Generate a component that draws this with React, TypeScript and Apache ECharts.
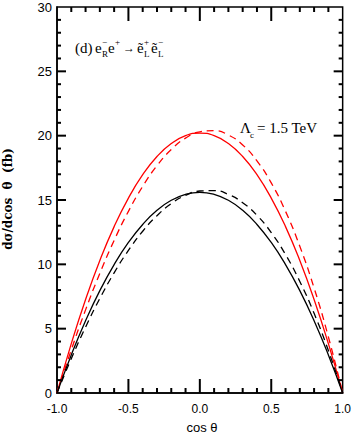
import React, { useEffect, useRef } from "react";
import * as echarts from "echarts";

const cosTheta = [-1, -0.9, -0.8, -0.7, -0.6, -0.5, -0.4, -0.3, -0.2, -0.1, 0, 0.1, 0.2, 0.3, 0.4, 0.5, 0.6, 0.7, 0.8, 0.9, 1];
const redSolid = [0, 3.84, 7.27, 10.3, 12.93, 15.15, 16.97, 18.38, 19.39, 20.0, 20.2, 20.0, 19.39, 18.38, 16.97, 15.15, 12.93, 10.3, 7.27, 3.84, 0];
const redDashed = [0, 3.35, 6.46, 9.3, 11.86, 14.12, 16.06, 17.67, 18.92, 19.81, 20.3, 20.39, 20.05, 19.28, 18.04, 16.33, 14.12, 11.4, 8.16, 4.36, 0];
const blackSolid = [0, 2.96, 5.62, 7.96, 9.98, 11.7, 13.1, 14.2, 14.98, 15.44, 15.6, 15.44, 14.98, 14.2, 13.1, 11.7, 9.98, 7.96, 5.62, 2.96, 0];
const blackDashed = [0, 2.67, 5.12, 7.35, 9.34, 11.08, 12.57, 13.78, 14.72, 15.36, 15.7, 15.73, 15.43, 14.79, 13.81, 12.47, 10.76, 8.67, 6.19, 3.3, 0];

const xTicks = ["-1.0", "-0.5", "0.0", "0.5", "1.0"];
const yTicks = ["0", "5", "10", "15", "20", "25", "30"];
const xMajorTickValues = [-0.5, 0, 0.5];
const xMinorTickValues = [-0.9, -0.8, -0.7, -0.6, -0.4, -0.3, -0.2, -0.1, 0.1, 0.2, 0.3, 0.4, 0.6, 0.7, 0.8, 0.9];
const yMajorTickValues = [5, 10, 15, 20, 25];
const yMinorTickValues = [1, 2, 3, 4, 6, 7, 8, 9, 11, 12, 13, 14, 16, 17, 18, 19, 21, 22, 23, 24, 26, 27, 28, 29];

const pairs = (ys: number[]) => cosTheta.map((c, i) => [c, ys[i]]);

export default function App() {
  const ref = useRef<HTMLDivElement>(null);
  useEffect(() => {
    document.body.style.margin = "0";
    const chart = echarts.init(ref.current!, null, { renderer: "svg" });
    const tickFont = "'Liberation Sans Narrow', 'Liberation Sans', sans-serif";
    const serif = "'Liberation Serif', serif";
    const xTickSeries = (values: number[], len: number) => ({
      type: "custom",
      z: 5,
      data: values.flatMap((v) => [[v, 0], [v, 30]]),
      renderItem: (_p: any, api: any) => {
        const yv = api.value(1);
        const p = api.coord([api.value(0), yv]);
        const dir = yv === 0 ? -1 : 1;
        return { type: "line", shape: { x1: p[0], y1: p[1], x2: p[0], y2: p[1] + dir * len }, style: { stroke: "#000", lineWidth: 2 } };
      },
    });
    const yTickSeries = (values: number[], len: number) => ({
      type: "custom",
      z: 5,
      data: values.flatMap((v) => [[-1, v], [1, v]]),
      renderItem: (_p: any, api: any) => {
        const xv = api.value(0);
        const p = api.coord([xv, api.value(1)]);
        const dir = xv === -1 ? 1 : -1;
        return { type: "line", shape: { x1: p[0], y1: p[1], x2: p[0] + dir * len, y2: p[1] }, style: { stroke: "#000", lineWidth: 2 } };
      },
    });
    const txt = (text: string, x: number, y: number, size = 9) => ({
      type: "text",
      x,
      y,
      style: { text, font: `${size}px ${serif}`, fill: "#000", textAlign: "left", textVerticalAlign: "middle" },
    });
    chart.setOption({
      animation: false,
      grid: { left: 57, right: 7, top: 7, bottom: 43, show: true, borderColor: "#000", borderWidth: 1.5, backgroundColor: "transparent" },
      xAxis: [
        {
          type: "value",
          min: -1,
          max: 1,
          interval: 0.5,
          axisLine: { show: true, onZero: false, lineStyle: { color: "#000", width: 1.5 } },
          axisTick: { show: false },
          splitLine: { show: true, lineStyle: { opacity: 0 } },
          axisLabel: {
            margin: 10,
            color: "#000",
            fontFamily: tickFont,
            fontSize: 12,
            formatter: (v: number) => xTicks[Math.round((v + 1) / 0.5)] ?? "",
          },
        },
      ],
      yAxis: [
        {
          type: "value",
          min: 0,
          max: 30,
          interval: 5,
          axisLine: { show: true, onZero: false, lineStyle: { color: "#000", width: 1.5 } },
          axisTick: { show: false },
          splitLine: { show: true, lineStyle: { opacity: 0 } },
          axisLabel: {
            margin: 5,
            color: "#000",
            fontFamily: tickFont,
            fontSize: 13,
            formatter: (v: number) => yTicks[Math.round(v / 5)] ?? "",
          },
        },
      ],
      series: [
        { type: "line", data: pairs(redSolid), smooth: true, symbol: "none", lineStyle: { color: "#ff0000", width: 1.3 } },
        { type: "line", data: pairs(redDashed), smooth: true, symbol: "none", lineStyle: { color: "#ff0000", width: 1.3, type: [7, 5] } },
        { type: "line", data: pairs(blackSolid), smooth: true, symbol: "none", lineStyle: { color: "#000", width: 1.3 } },
        { type: "line", data: pairs(blackDashed), smooth: true, symbol: "none", lineStyle: { color: "#000", width: 1.3, type: [7, 5] } },
        xTickSeries(xMajorTickValues, 14),
        xTickSeries(xMinorTickValues, 5),
        yTickSeries(yMajorTickValues, 9),
        yTickSeries(yMinorTickValues, 4),
      ],
      graphic: [
        {
          type: "text",
          x: 8,
          y: 199,
          rotation: Math.PI / 2,
          style: {
            text: "dσ/dcos  θ  (fb)",
            font: "bold 12px 'DejaVu Serif', serif",
            fill: "#000",
            textAlign: "center",
            textVerticalAlign: "middle",
          },
        },
        {
          type: "text",
          x: 202,
          y: 427,
          style: { text: "cos θ", font: `13px ${tickFont}`, fill: "#000", textAlign: "center", textVerticalAlign: "middle" },
        },
        txt("(d)", 75, 48, 15),
        txt("e", 95, 48, 15),
        txt("R", 102, 54),
        txt("−", 102, 42),
        txt("e", 108, 48, 15),
        txt("+", 115, 42),
        txt("→", 123, 48, 12),
        txt("ẽ", 137, 48, 15),
        txt("L", 144, 54),
        txt("+", 144, 42),
        txt("ẽ", 151, 48, 15),
        txt("L", 158, 54),
        txt("−", 158, 42),
        txt("Λ", 240, 128, 15),
        txt("c", 250, 135, 9),
        txt("= 1.5 TeV", 257, 128, 15),
      ],
    });
    return () => chart.dispose();
  }, []);
  return <div ref={ref} style={{ width: 354, height: 436 }} />;
}
